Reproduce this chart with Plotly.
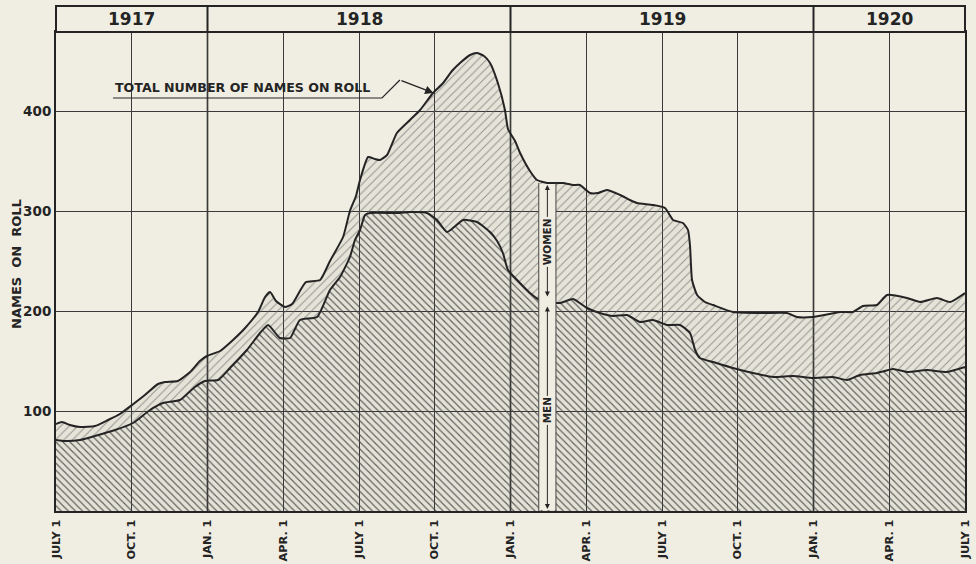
import plotly.graph_objects as go

# x values: months elapsed since July 1, 1917
total_x = [0.00, 0.24, 0.55, 0.95, 1.54, 2.06, 2.53, 3.01, 3.52, 4.04, 4.32, 4.83, 5.31, 5.70, 5.98,
           6.50, 7.01, 7.49, 8.00, 8.28, 8.48, 8.71, 9.07, 9.35, 9.66, 9.90, 10.46, 10.85, 11.37, 11.64,
           11.88, 12.04, 12.36, 12.63, 12.83, 13.11, 13.50, 14.02, 14.42, 14.93, 15.33, 15.68, 16.00,
           16.40, 16.67, 16.95, 17.19, 17.50, 17.78, 17.90, 18.18, 18.38, 18.77, 19.05, 19.45, 20.08,
           20.48, 20.75, 21.15, 21.47, 21.82, 22.34, 22.73, 23.01, 23.64, 24.12, 24.44, 24.83, 25.03,
           25.11, 25.19, 25.39, 25.70, 26.02, 26.81, 28.00, 28.95, 29.35, 29.98, 31.05, 31.56, 31.96,
           32.51, 32.91, 33.70, 34.22, 34.89, 35.41, 36.00]
total_v = [87, 89, 86, 84, 85, 91, 97, 106, 116, 127, 129, 130, 139, 150, 155,
           160, 171, 183, 199, 214, 219, 210, 204, 207, 220, 229, 231, 250, 274, 300,
           315, 331, 354, 352, 351, 356, 378, 391, 401, 418, 428, 440, 448,
           456, 458, 455, 448, 428, 401, 382, 370, 358, 340, 331, 328, 328,
           326, 326, 318, 318, 321, 316, 311, 308, 306, 303, 291, 288, 281,
           265, 231, 216, 209, 206, 199, 198, 198, 194, 194, 199, 199, 205,
           206, 216, 213, 209, 213, 209, 218]

men_x = [0.00, 0.36, 0.95, 1.54, 2.34, 3.05, 3.72, 4.24, 4.91, 5.50, 5.90, 6.42, 6.89, 7.56, 8.08,
         8.40, 8.87, 9.27, 9.66, 10.34, 10.85, 11.25, 11.64, 11.84, 12.04, 12.24, 12.44, 13.62, 14.02,
         14.69, 15.09, 15.49, 16.12, 16.67, 17.19, 17.47, 17.70, 17.90, 18.26, 18.77, 19.29, 19.96,
         20.48, 21.03, 21.54, 22.06, 22.61, 23.13, 23.64, 24.20, 24.71, 25.11, 25.31, 25.50, 26.02,
         26.81, 27.60, 28.40, 29.19, 29.98, 30.77, 31.33, 31.84, 32.51, 33.15, 33.70, 34.50, 35.29, 36.00]
men_v = [71, 70, 71, 75, 81, 88, 101, 108, 111, 124, 130, 131, 143, 161, 178,
         186, 173, 173, 191, 194, 221, 234, 254, 271, 281, 296, 298, 298, 299,
         298, 291, 279, 291, 289, 279, 270, 258, 241, 231, 218, 209, 208,
         212, 203, 198, 195, 196, 189, 191, 186, 186, 178, 161, 153, 149,
         143, 138, 134, 135, 133, 134, 131, 136, 138, 142, 139, 141, 139, 144]

tick_months = [0, 3, 6, 9, 12, 15, 18, 21, 24, 27, 30, 33, 36]
tick_labels = ["JULY 1", "OCT. 1", "JAN. 1", "APR. 1", "JULY 1", "OCT. 1", "JAN. 1",
               "APR. 1", "JULY 1", "OCT. 1", "JAN. 1", "APR. 1", "JULY 1"]
years = ["1917", "1918", "1919", "1920"]
year_centers = [3, 12, 24, 33]
year_bounds = [6, 18, 30]
y_ticks = [100, 200, 300, 400]

BG = "#f0eee2"
INK = "#242424"
FONT = "DejaVu Sans"
XMAX = 36
YMAX = 479

fig = go.Figure()
fig.add_trace(go.Scatter(
    x=men_x, y=men_v, mode="lines", name="Men",
    line=dict(color=INK, width=2, shape="spline", smoothing=0.5),
    fill="tozeroy",
    fillpattern=dict(shape="\\", fgcolor="#444444", fgopacity=0.85, size=5, solidity=0.22,
                     bgcolor="rgba(0,0,0,0.05)"),
    hoverinfo="skip"))
fig.add_trace(go.Scatter(
    x=total_x, y=total_v, mode="lines", name="Total",
    line=dict(color=INK, width=2, shape="spline", smoothing=0.5),
    fill="tonexty",
    fillpattern=dict(shape="/", fgcolor="#666666", fgopacity=0.65, size=6, solidity=0.16,
                     bgcolor="rgba(0,0,0,0.045)"),
    hoverinfo="skip"))

shapes = []
# year header
hdr_top = 1 + 26 / YMAX
shapes.append(dict(type="rect", xref="paper", yref="paper", x0=0, x1=1, y0=1, y1=hdr_top,
                   line=dict(color=INK, width=2), fillcolor=BG, layer="above"))
for b in year_bounds:
    shapes.append(dict(type="line", xref="paper", yref="paper", x0=b / XMAX, x1=b / XMAX,
                       y0=1, y1=hdr_top, line=dict(color=INK, width=2), layer="above"))
    shapes.append(dict(type="line", xref="x", yref="paper", x0=b, x1=b, y0=0, y1=1,
                       line=dict(color=INK, width=1.6), layer="below"))
# label strip (women / men dimension)
sx0, sx1 = 19.12, 19.80
shapes.append(dict(type="rect", xref="x", yref="y", x0=sx0, x1=sx1, y0=1, y1=327,
                   fillcolor=BG, line=dict(width=0), layer="above"))
for sx in (sx0, sx1):
    shapes.append(dict(type="line", xref="x", yref="y", x0=sx, x1=sx, y0=0, y1=328,
                       line=dict(color="#444", width=1), layer="above"))
# leader line for total label
shapes.append(dict(type="path", xref="x", yref="y",
                   path="M 2.26,413 L 12.91,413 L 13.62,431",
                   line=dict(color=INK, width=1.2), layer="above"))

annotations = []
for yr, c in zip(years, year_centers):
    annotations.append(dict(text=yr, xref="paper", yref="paper", x=c / XMAX, y=1 + 13 / YMAX,
                            showarrow=False, font=dict(family=FONT, size=17, color=INK, weight="bold"),
                            xanchor="center", yanchor="middle"))
annotations.append(dict(text="TOTAL NUMBER OF NAMES ON ROLL", x=2.26, y=424, xref="x", yref="y",
                        xanchor="left", showarrow=False,
                        font=dict(family=FONT, size=12.6, color=INK, weight="bold")))
annotations.append(dict(text="", x=14.95, y=418, ax=13.62, ay=431, xref="x", yref="y",
                        axref="x", ayref="y", showarrow=True, arrowhead=2, arrowsize=1.2,
                        arrowwidth=1.4, arrowcolor=INK))
mid = (sx0 + sx1) / 2
annotations.append(dict(text="", x=mid, y=326, ax=mid, ay=213, xref="x", yref="y",
                        axref="x", ayref="y", showarrow=True, arrowhead=2, arrowside="end+start",
                        arrowsize=1, arrowwidth=1, arrowcolor=INK))
annotations.append(dict(text="", x=mid, y=2, ax=mid, ay=206, xref="x", yref="y",
                        axref="x", ayref="y", showarrow=True, arrowhead=2, arrowside="end+start",
                        arrowsize=1, arrowwidth=1, arrowcolor=INK))
annotations.append(dict(text="WOMEN", x=mid, y=269, xref="x", yref="y", textangle=-90,
                        showarrow=False, bgcolor=BG, borderpad=1,
                        font=dict(family=FONT, size=10.5, color=INK, weight="bold")))
annotations.append(dict(text="MEN", x=mid, y=101, xref="x", yref="y", textangle=-90,
                        showarrow=False, bgcolor=BG, borderpad=1,
                        font=dict(family=FONT, size=10.5, color=INK, weight="bold")))
annotations.append(dict(text="NAMES  ON  ROLL", xref="paper", yref="paper",
                        x=(16 - 56) / 909, y=(511 - 264) / YMAX, textangle=-90, showarrow=False,
                        font=dict(family=FONT, size=13, color=INK, weight="bold"),
                        xanchor="center", yanchor="middle"))

fig.update_layout(
    width=976, height=564,
    margin=dict(l=56, r=11, t=32, b=53),
    paper_bgcolor=BG, plot_bgcolor=BG,
    showlegend=False,
    shapes=shapes, annotations=annotations,
    xaxis=dict(range=[0, XMAX], tickvals=tick_months, ticktext=tick_labels, tickangle=-90,
               showgrid=True, gridcolor="#3a3a3a", gridwidth=1, zeroline=False,
               showline=True, linecolor=INK, linewidth=2, mirror=True, ticks="",
               ticklabelstandoff=2, automargin=False,
               tickfont=dict(family=FONT, size=11.3, color=INK, weight="bold"), fixedrange=True),
    yaxis=dict(range=[0, YMAX], tickvals=y_ticks, showgrid=True, gridcolor="#3a3a3a", gridwidth=1,
               zeroline=False, showline=True, linecolor=INK, linewidth=2, mirror=True, ticks="",
               automargin=False,
               tickfont=dict(family=FONT, size=13.5, color=INK, weight="bold"), fixedrange=True),
)

fig.write_html(
    "out.html",
    config={"displayModeBar": False},
    post_script="document.body.style.margin='0';document.body.style.background='" + BG + "';"
                "document.body.style.overflow='hidden';",
)
